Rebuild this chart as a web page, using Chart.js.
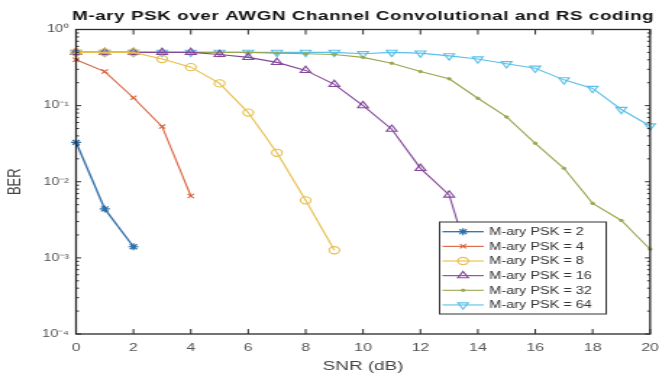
<!DOCTYPE html>
<html>
<head>
<meta charset="utf-8">
<script src="https://cdn.jsdelivr.net/npm/chart.js@4.4.0/dist/chart.umd.min.js"></script>
<style>
    html, body { margin: 0; padding: 0; background: #fff; overflow: hidden; }
    /* the source figure is stretched sideways, so the chart is drawn narrow and widened */
    #wrap { width: 455px; height: 374px; transform: scaleX(1.4484); transform-origin: 0 0; }
</style>
</head>
<body>
<div id="wrap"><canvas id="berChart"></canvas></div>
<script>
// SNR in dB
const snr = [0, 1, 2, 3, 4, 5, 6, 7, 8, 9, 10, 11, 12, 13, 14, 15, 16, 17, 18, 19, 20];

// BER per modulation order
const ber2 = [0.033, 0.0044, 0.0014];
const ber4 = [0.40, 0.28, 0.127, 0.053, 0.0065];
const ber8 = [0.5, 0.5, 0.5, 0.41, 0.32, 0.196, 0.081, 0.024, 0.0057, 0.00126];
const ber16 = [0.5, 0.5, 0.5, 0.5, 0.5, 0.47, 0.43, 0.37, 0.29, 0.19, 0.10, 0.049, 0.015, 0.0067, 0.0004];
const ber32 = [0.5, 0.5, 0.5, 0.5, 0.5, 0.5, 0.5, 0.49, 0.48, 0.47, 0.43, 0.36, 0.28, 0.225, 0.125, 0.071, 0.032, 0.015, 0.0052, 0.0031, 0.0013];
const ber64 = [0.5, 0.5, 0.5, 0.5, 0.5, 0.5, 0.5, 0.5, 0.5, 0.5, 0.48, 0.5, 0.49, 0.45, 0.41, 0.355, 0.31, 0.218, 0.168, 0.089, 0.054];

const seriesLabels = ['M-ary PSK = 2', 'M-ary PSK = 4', 'M-ary PSK = 8', 'M-ary PSK = 16', 'M-ary PSK = 32', 'M-ary PSK = 64'];
const titleText = 'M-ary PSK over AWGN Channel Convolutional and RS coding';
const xTitle = 'SNR (dB)';
const yTitle = 'BER';

const FONT = "'Liberation Sans', Arial, Helvetica, sans-serif";
const SUP = { '-': '\u207B', '0': '\u2070', '1': '\u00B9', '2': '\u00B2', '3': '\u00B3', '4': '\u2074', '5': '\u2075', '6': '\u2076', '7': '\u2077', '8': '\u2078', '9': '\u2079' };

function toPoints(values) {
    return values.map(function(v, i) { return { x: snr[i], y: v }; });
}

function isDecade(v) {
    const lg = Math.log10(v);
    return Math.abs(lg - Math.round(lg)) < 1e-6;
}

// Box round the axes with inward ticks, like the original figure
const boxPlugin = {
    id: 'box',
    afterDatasetsDraw(chart) {
        const ctx = chart.ctx;
        const a = chart.chartArea;
        const xs = chart.scales.x;
        const ys = chart.scales.y;
        ctx.save();
        ctx.strokeStyle = '#2a2a2a';
        ctx.lineWidth = 1;
        ctx.beginPath();
        xs.ticks.forEach(function(t) {
            const px = xs.getPixelForValue(t.value);
            ctx.moveTo(px, a.bottom); ctx.lineTo(px, a.bottom - 5);
            ctx.moveTo(px, a.top); ctx.lineTo(px, a.top + 5);
        });
        const lo = Math.floor(Math.log10(ys.min));
        const hi = Math.ceil(Math.log10(ys.max));
        for (let e = lo; e <= hi; e++) {
            for (let m = 1; m <= 9; m++) {
                const v = m * Math.pow(10, e);
                if (v < ys.min * 0.999 || v > ys.max * 1.001) continue;
                const py = ys.getPixelForValue(v);
                const len = m === 1 ? 3.5 : 2;
                ctx.moveTo(a.left, py); ctx.lineTo(a.left + len, py);
                ctx.moveTo(a.right, py); ctx.lineTo(a.right - len, py);
            }
        }
        ctx.stroke();
        ctx.lineWidth = 1.3;
        ctx.strokeRect(a.left, a.top, a.right - a.left, a.bottom - a.top);
        ctx.restore();
    }
};

// Title centred over the plot box
const titlePlugin = {
    id: 'boxTitle',
    afterDraw(chart) {
        const ctx = chart.ctx;
        const a = chart.chartArea;
        ctx.save();
        ctx.font = 'bold 13px ' + FONT;
        ctx.letterSpacing = '0.4px';
        ctx.fillStyle = '#111';
        ctx.textAlign = 'center';
        ctx.textBaseline = 'middle';
        ctx.fillText(titleText, (a.left + a.right) / 2, 16);
        ctx.restore();
    }
};

// Legend box inside the plot, lower right
const legendPlugin = {
    id: 'insideLegend',
    afterDraw(chart) {
        const ctx = chart.ctx;
        const a = chart.chartArea;
        const w = 115, h = 92, rowH = 14.65;
        const left = a.right - 30.3 - w;
        const top = a.bottom - 20 - h;
        ctx.save();
        ctx.fillStyle = '#fff';
        ctx.fillRect(left, top, w, h);
        ctx.strokeStyle = '#333';
        ctx.lineWidth = 1;
        ctx.strokeRect(left, top, w, h);
        ctx.font = '10px ' + FONT;
        ctx.textBaseline = 'middle';
        ctx.textAlign = 'left';
        chart.data.datasets.forEach(function(ds, i) {
            const y = top + 9.7 + i * rowH;
            ctx.strokeStyle = ds.borderColor;
            ctx.lineWidth = ds.borderWidth;
            ctx.beginPath();
            ctx.moveTo(left + 2, y);
            ctx.lineTo(left + 30.5, y);
            ctx.stroke();
            ctx.fillStyle = ds.pointBackgroundColor;
            ctx.lineWidth = ds.pointBorderWidth;
            Chart.helpers.drawPoint(ctx, {
                pointStyle: ds.pointStyle,
                radius: ds.pointRadius,
                rotation: ds.pointRotation || 0,
                borderWidth: ds.pointBorderWidth
            }, left + 16.2, y);
            ctx.fillStyle = '#333';
            ctx.fillText(ds.label, left + 34.3, y + 0.5);
        });
        ctx.restore();
    }
};

const ctx = document.getElementById('berChart');
new Chart(ctx, {
    type: 'line',
    data: {
        datasets: [{
            label: seriesLabels[0],
            data: toPoints(ber2),
            borderColor: '#2e6fa8',
            pointBackgroundColor: '#2e6fa8',
            pointStyle: 'star',
            pointRadius: 3.5,
            pointBorderWidth: 1.2,
            borderWidth: 1.3
        }, {
            label: seriesLabels[1],
            data: toPoints(ber4),
            borderColor: '#d7643f',
            pointBackgroundColor: '#d7643f',
            pointStyle: 'crossRot',
            pointRadius: 3,
            pointBorderWidth: 1.1,
            borderWidth: 1.1
        }, {
            label: seriesLabels[2],
            data: toPoints(ber8),
            borderColor: '#e6bf4c',
            pointBackgroundColor: 'rgba(255,255,255,0)',
            pointStyle: 'circle',
            pointRadius: 3.6,
            pointBorderWidth: 1.1,
            borderWidth: 1.1
        }, {
            label: seriesLabels[3],
            data: toPoints(ber16),
            borderColor: '#84479a',
            pointBackgroundColor: 'rgba(255,255,255,0)',
            pointStyle: 'triangle',
            pointRadius: 4.2,
            pointBorderWidth: 1.1,
            borderWidth: 1.1
        }, {
            label: seriesLabels[4],
            data: toPoints(ber32),
            borderColor: '#9aa74f',
            pointBackgroundColor: '#9aa74f',
            pointStyle: 'circle',
            pointRadius: 1.2,
            pointBorderWidth: 1,
            borderWidth: 1.1
        }, {
            label: seriesLabels[5],
            data: toPoints(ber64),
            borderColor: '#5bc0e8',
            pointBackgroundColor: 'rgba(255,255,255,0)',
            pointStyle: 'triangle',
            pointRotation: 180,
            pointRadius: 4.2,
            pointBorderWidth: 1.1,
            borderWidth: 1.1
        }]
    },
    options: {
        responsive: true,
        maintainAspectRatio: false,
        animation: false,
        layout: {
            padding: { top: 29.5, right: 6.2, bottom: 0, left: 0 }
        },
        elements: {
            line: { tension: 0 }
        },
        datasets: {
            line: { clip: false }
        },
        plugins: {
            legend: { display: false },
            tooltip: { enabled: false },
            title: { display: false }
        },
        scales: {
            x: {
                type: 'linear',
                min: 0,
                max: 20,
                grid: { display: false, drawTicks: false },
                border: { display: false },
                ticks: {
                    stepSize: 2,
                    padding: 7,
                    color: '#555',
                    font: { family: FONT, size: 11 }
                },
                title: {
                    display: true,
                    text: xTitle,
                    color: '#444',
                    font: { family: FONT, size: 13 },
                    padding: { top: 0, bottom: 0 }
                },
                afterFit: function(scale) {
                    scale.height = 40;
                    scale.paddingLeft = 0;
                    scale.paddingRight = 0;
                }
            },
            y: {
                type: 'logarithmic',
                min: 1e-4,
                max: 1,
                grid: { display: false, drawTicks: false },
                border: { display: false },
                ticks: {
                    autoSkip: false,
                    padding: 5,
                    color: '#555',
                    font: { family: FONT, size: 10 },
                    callback: function(value) {
                        if (!isDecade(value)) return '';
                        const e = String(Math.round(Math.log10(value)));
                        return '10' + e.split('').map(function(c) { return SUP[c]; }).join('');
                    }
                },
                title: {
                    display: true,
                    text: yTitle,
                    color: '#444',
                    font: { family: FONT, size: 13 },
                    padding: { top: 3, bottom: 0 }
                },
                afterFit: function(scale) { scale.width = 52.5; }
            }
        }
    },
    plugins: [boxPlugin, titlePlugin, legendPlugin]
});
</script>
</body>
</html>
